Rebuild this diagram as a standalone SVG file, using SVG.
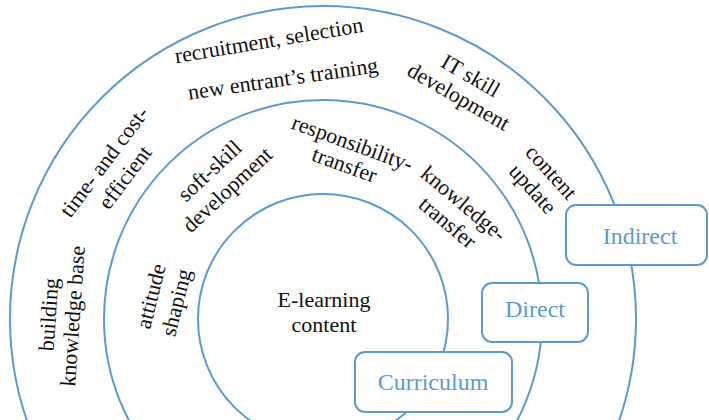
<svg xmlns="http://www.w3.org/2000/svg" width="709" height="420" viewBox="0 0 709 420">
  <style>
    .ring { fill: none; stroke: #5B9BD5; stroke-width: 2; }
    .box { fill: #FFFFFF; stroke: #5B9BD5; stroke-width: 2; }
    .lbl { font-family: "Liberation Serif", "Times New Roman", serif; font-size: 22px; fill: #111111; text-anchor: middle; }
    .tag { font-family: "Liberation Serif", "Times New Roman", serif; font-size: 24px; fill: #5B9BD5; text-anchor: middle; }
  </style>
  <rect width="709" height="420" fill="#FFFFFF"/>

  <!-- concentric rings: outer, middle, inner -->
  <g id="rings">
    <circle id="ring-indirect" class="ring" cx="323" cy="319" r="313"/>
    <circle id="ring-direct" class="ring" cx="323" cy="319" r="219"/>
    <circle id="ring-curriculum" class="ring" cx="323" cy="319" r="125"/>
  </g>

  <!-- centre -->
  <g id="core">
    <text class="lbl" x="324" y="307">E-learning</text>
    <text class="lbl" x="324" y="332">content</text>
  </g>

  <!-- outer ring labels -->
  <g id="recruitment" transform="translate(270,47.5) rotate(-9.5)">
    <text class="lbl" x="0" y="0">recruitment, selection</text>
  </g>
  <g id="it-skill" transform="translate(467,82) rotate(30)">
    <text class="lbl" x="0" y="0">IT skill</text>
    <text class="lbl" x="0" y="24">development</text>
  </g>
  <g id="content-update" transform="translate(546,177) rotate(48)">
    <text class="lbl" x="0" y="0">content</text>
    <text class="lbl" x="0" y="25">update</text>
  </g>
  <g id="time-cost" transform="translate(110,166) rotate(-53)">
    <text class="lbl" x="0" y="0">time- and cost-</text>
    <text class="lbl" x="0" y="26">efficient</text>
  </g>
  <g id="knowledge-base" transform="translate(56,315) rotate(-86)">
    <text class="lbl" x="0" y="0">building</text>
    <text class="lbl" x="0" y="24">knowledge base</text>
  </g>

  <!-- middle ring labels -->
  <g id="new-entrant" transform="translate(284,86) rotate(-8.3)">
    <text class="lbl" x="0" y="0">new entrant’s training</text>
  </g>
  <g id="soft-skill" transform="translate(214.5,176) rotate(-43)">
    <text class="lbl" x="0" y="0">soft-skill</text>
    <text class="lbl" x="0" y="26">development</text>
  </g>
  <g id="responsibility" transform="translate(350,150) rotate(20)">
    <text class="lbl" x="0" y="0">responsibility-</text>
    <text class="lbl" x="0" y="23">transfer</text>
  </g>
  <g id="knowledge-transfer" transform="translate(459,209) rotate(40)">
    <text class="lbl" x="0" y="0">knowledge-</text>
    <text class="lbl" x="0" y="25">transfer</text>
  </g>
  <g id="attitude" transform="translate(158,298) rotate(-76)">
    <text class="lbl" x="0" y="0">attitude</text>
    <text class="lbl" x="0" y="26">shaping</text>
  </g>

  <!-- ring name tags -->
  <g id="tag-indirect">
    <rect class="box" x="566" y="205" width="141" height="60" rx="10"/>
    <text class="tag" x="640" y="244">Indirect</text>
  </g>
  <g id="tag-direct">
    <rect class="box" x="482" y="283" width="106" height="59" rx="10"/>
    <text class="tag" x="535" y="317">Direct</text>
  </g>
  <g id="tag-curriculum">
    <rect class="box" x="355" y="352" width="157" height="60" rx="10"/>
    <text class="tag" x="433" y="390">Curriculum</text>
  </g>
</svg>
